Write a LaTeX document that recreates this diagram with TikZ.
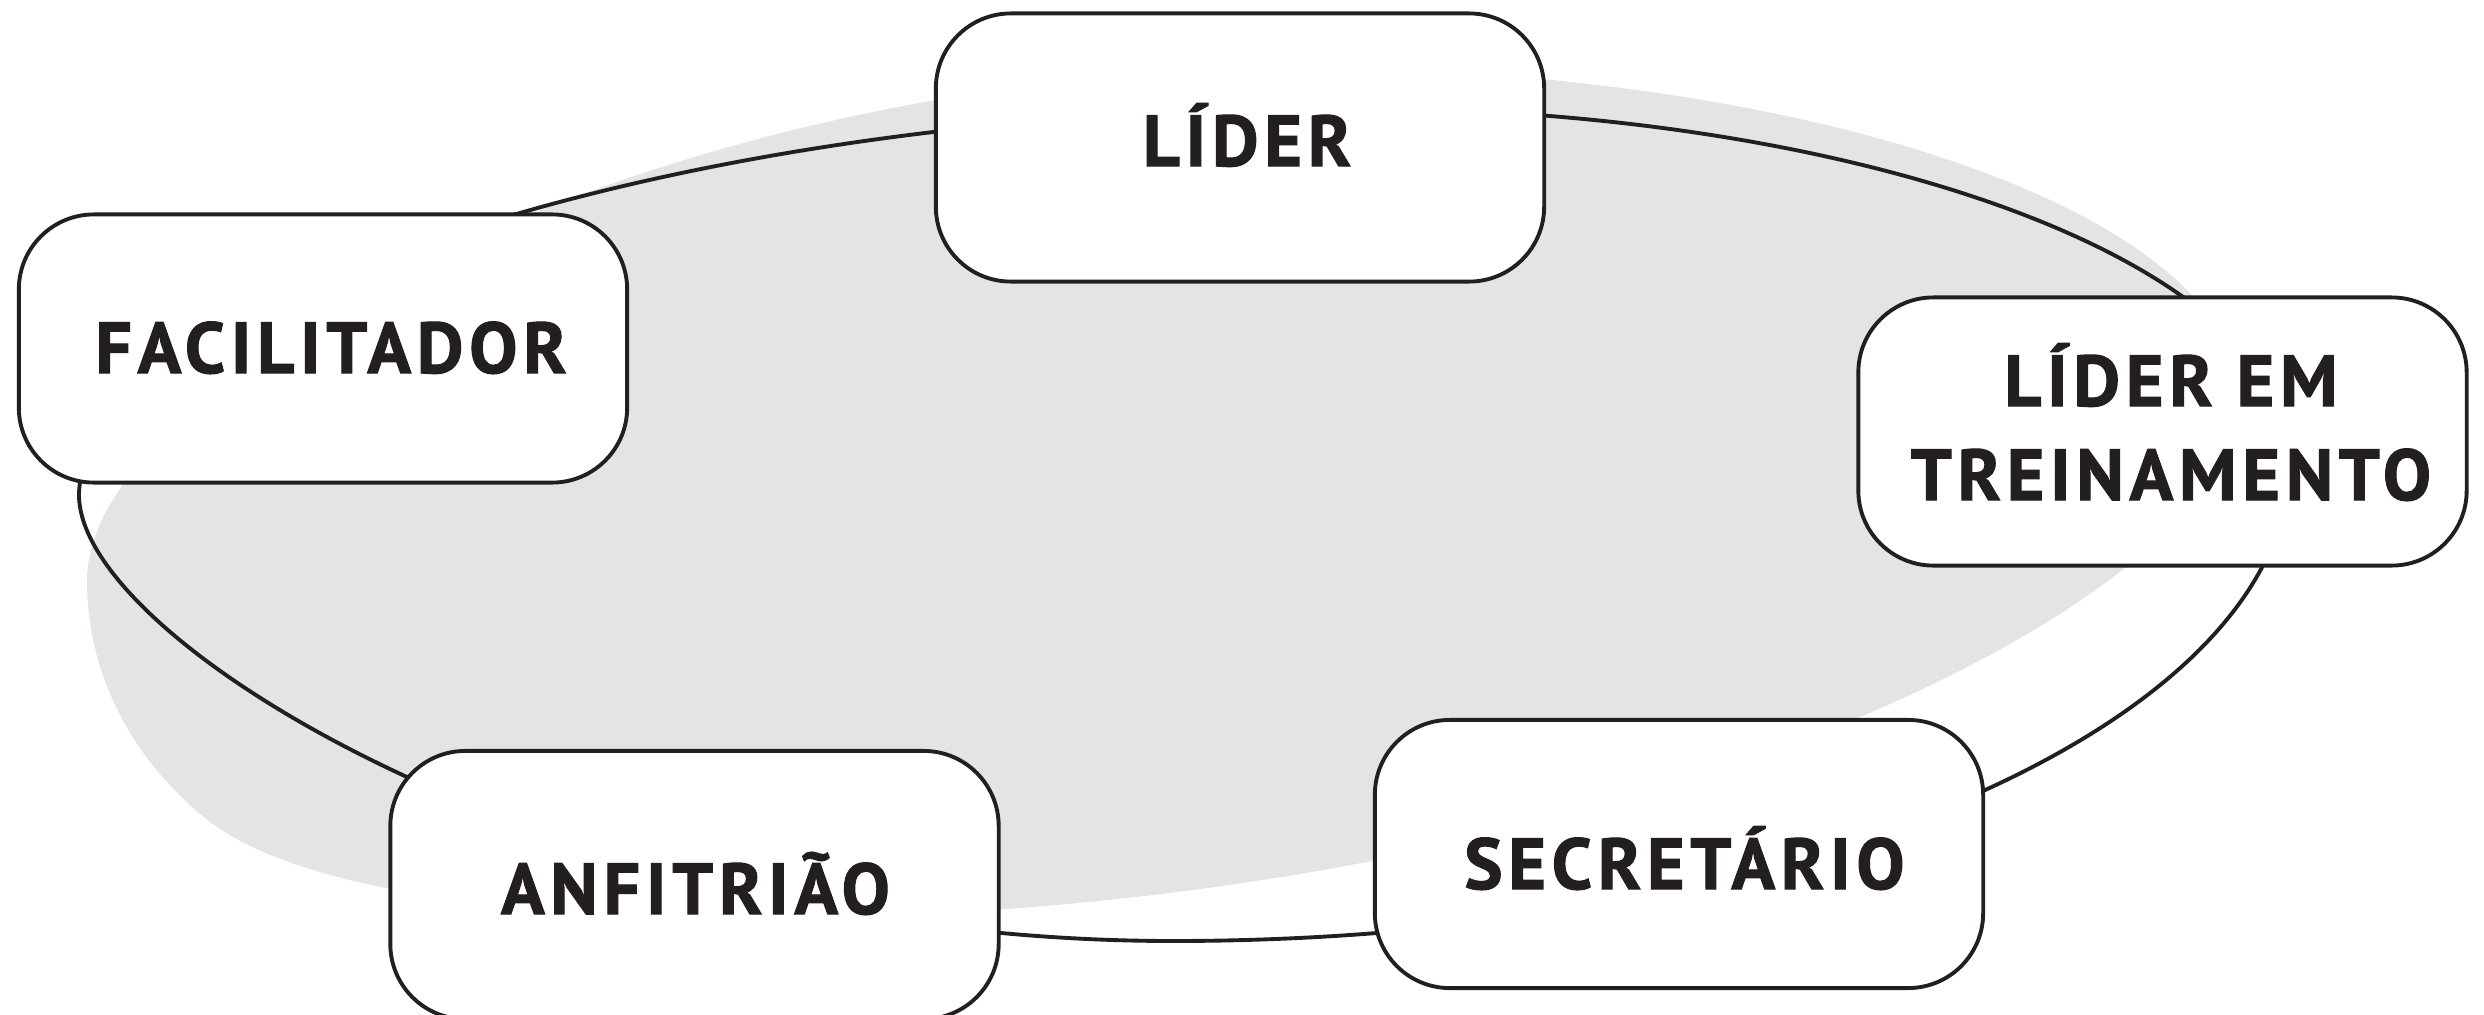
\documentclass[tikz,border=0pt]{standalone}
\usepackage{fontspec}
\setmainfont{PT Sans}
\newfontfamily\rolefont[LetterSpace=8,BoldFeatures={FakeBold=1.5}]{PT Sans}
\definecolor{ink}{RGB}{35,31,32}
\definecolor{blob}{RGB}{227,228,230}
\begin{document}
\begin{tikzpicture}[x=0.01cm,y=-0.01cm,
  rolebox/.style={draw=ink, line width=1.1pt, fill=white, rounded corners=0.75cm,
    minimum width=6.08cm, minimum height=2.68cm, inner sep=0pt},
  lbl/.style={text=ink, anchor=base, inner sep=0pt,
    font=\rolefont\bfseries\fontsize{20.5}{24}\selectfont},
  ring/.style={draw=ink, line width=1.1pt}]
\useasboundingbox (0,0) rectangle (2484,1015);
\clip (0,0) rectangle (2484,1015);
% grey background blob
\fill[blob] (87,580) .. controls (87,380) and (650,68) .. (1300,68)
  .. controls (1819,68) and (2240,217) .. (2240,400)
  .. controls (2240,600) and (1610,918) .. (760,918)
  .. controls (540,918) and (300,895) .. (205,818)
  .. controls (137,763) and (87,680) .. (87,580) -- cycle;
% ring joining the roles
\draw[ring] (79,495) .. controls (79,335) and (590,108) .. (1350,108)
  .. controls (1869,108) and (2290,266) .. (2290,460)
  .. controls (2290,725) and (1790,941) .. (1173,941)
  .. controls (573,941) and (79,645) .. (79,495) -- cycle;
% role boxes
\node[rolebox] (lider) at (1240,147.5) {};
\node[rolebox] (facil) at (323,348.5) {};
\node[rolebox] (trein) at (2162.5,431.5) {};
\node[rolebox] (secr)  at (1679,854) {};
\node[rolebox] (anfi)  at (694.5,885) {};
% labels
\node[lbl] (liderT) at (1247,166) {LÍDER};
\node[lbl] (facilT) at (331,373) {FACILITADOR};
\node[lbl] (treinTa) at (2171,406) {LÍDER EM};
\node[lbl] (treinTb) at (2171,500) {TREINAMENTO};
\node[lbl] (secrT) at (1684.5,889) {SECRETÁRIO};
\node[lbl] (anfiT) at (695.5,914) {ANFITRIÃO};
\end{tikzpicture}
\end{document}
